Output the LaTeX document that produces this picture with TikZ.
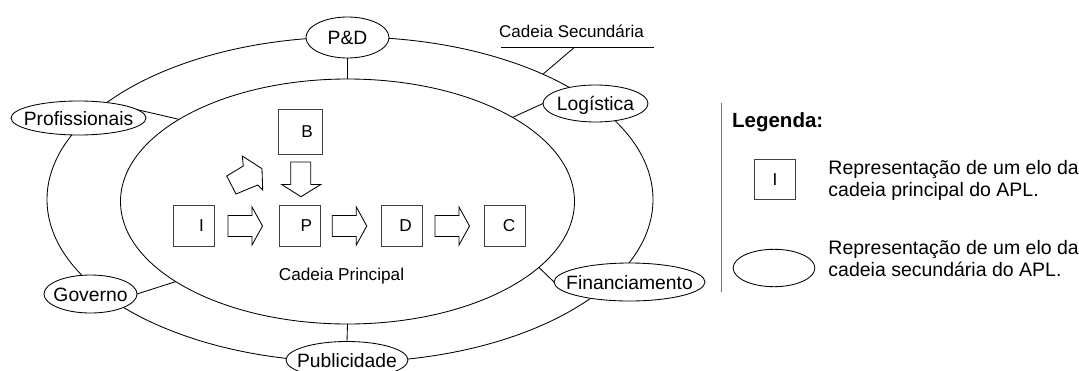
\documentclass[tikz,border=0pt]{standalone}
\usepackage{fontspec}
\setmainfont{Liberation Sans}
\usetikzlibrary{shapes.geometric}
\newcommand\zw[1]{\makebox[0pt]{#1}}
\begin{document}
\begin{tikzpicture}[x=1pt,y=-1pt,
  line width=0.85pt,
  ring/.style={draw, ellipse, inner sep=0pt, outer sep=0pt},
  sec/.style={draw, ellipse, fill=white, inner sep=0pt, outer sep=0pt,
    text height=14pt, text depth=0pt, font=\fontsize{19.3}{22}\selectfont},
  elo/.style={draw=black!75, fill=white, rectangle, inner sep=0pt, outer sep=0pt,
    minimum size=41pt, text height=12.3pt, text depth=0pt, font=\fontsize{17.2}{20}\selectfont},
  blk/.style={draw, fill=white, line join=miter},
  legtxt/.style={anchor=base west, align=left, inner sep=0pt, font=\fontsize{19.5}{22.7}\selectfont},
  rarr/.pic={\draw[blk] (0,-10.5) -- (24,-10.5) -- (24,-19) -- (34.5,0) -- (24,19) -- (24,10.5) -- (0,10.5) -- cycle;}
]
\useasboundingbox (0,0) rectangle (1079,370);

% chain rings
\node[ring, minimum width=606pt, minimum height=325pt] (outer) at (350,199.5) {};
\node[ring, minimum width=454pt, minimum height=245pt] (inner) at (347.5,201.5) {};

% secondary chain links
\node[sec, minimum width=83pt, minimum height=41pt] (pd) at (347.5,37.5) {\zw{P\&D}};
\node[sec, minimum width=135pt, minimum height=34pt] (prof) at (78.5,118) {\zw{Profissionais}};
\node[sec, minimum width=105pt, minimum height=37pt] (log) at (595.5,103.5) {\zw{Logística}};
\node[sec, minimum width=93pt, minimum height=38pt] (gov) at (90.5,294) {\zw{Governo}};
\node[sec, minimum width=151pt, minimum height=38pt] (fin) at (629.5,282) {\zw{Financiamento}};
\node[sec, minimum width=122pt, minimum height=37pt] (pub) at (347,360) {\zw{Publicidade}};

% connectors to the main chain
\draw (pd.south) -- (inner.north);
\draw (prof.8) -- (inner.154.7);
\draw (log.west) -- (inner.27.7);
\draw (gov.east) -- (inner.205.6);
\draw (fin.west) -- (inner.-19.5);
\draw (pub.north) -- (inner.south);

% Cadeia Secundaria label
\node[font=\fontsize{17}{20}\selectfont, inner sep=0pt] (cstxt) at (571.5,31) {Cadeia Secundária};
\coordinate (csl) at (501,47.7);
\coordinate (csr) at (654,47.7);
\coordinate (csm) at (574,47.7);
\draw (csl) -- (csr);
\draw (csm) -- (outer.33.5);

% main chain
\node[elo, minimum size=44.5pt] (B) at (300.5,131.7) {\hspace*{13pt}B};
\node[elo] (I) at (193.5,225.7) {\hspace*{16pt}I};
\node[elo] (P) at (300.3,225.7) {\hspace*{12pt}P};
\node[elo] (D) at (401.5,225.7) {\hspace*{8pt}D};
\node[elo] (C) at (505.3,225.7) {\hspace*{7.5pt}C};

\pic at (228,226) {rarr};
\pic at (332.3,226) {rarr};
\pic at (435,226) {rarr};
\draw[blk] (290.7,162) -- (310.7,162) -- (310.7,184.5) -- (320.7,184.5) -- (301,196.7) -- (281.7,184.5) -- (290.7,184.5) -- cycle;
\draw[blk] (226.7,176) -- (243.3,166) -- (242.3,156) -- (262,168.7) -- (262.7,190) -- (257.7,185) -- (236,194) -- cycle;

\node[anchor=base, inner sep=0pt, font=\fontsize{17.2}{20}\selectfont] (cp) at (341.5,280.7) {Cadeia Principal};

% legend
\coordinate (lt) at (721.7,103);
\coordinate (lb) at (721.7,291.7);
\draw[black!55] (lt) -- (lb);
\node[anchor=base west, inner sep=0pt, font=\bfseries\fontsize{20.5}{24}\selectfont] (leg) at (731.7,127.3) {Legenda:};
\node[elo, minimum width=41.4pt, minimum height=40pt] (legbox) at (775,179.3) {I};
\node[legtxt] (legt1) at (828,196.7) {Representação de um elo da\\cadeia principal do APL.};
\node[sec, minimum width=81.7pt, minimum height=37.4pt] (legell) at (774,268) {};
\node[legtxt] (legt2) at (828,276.7) {Representação de um elo da\\cadeia secundária do APL.};
\end{tikzpicture}
\end{document}
